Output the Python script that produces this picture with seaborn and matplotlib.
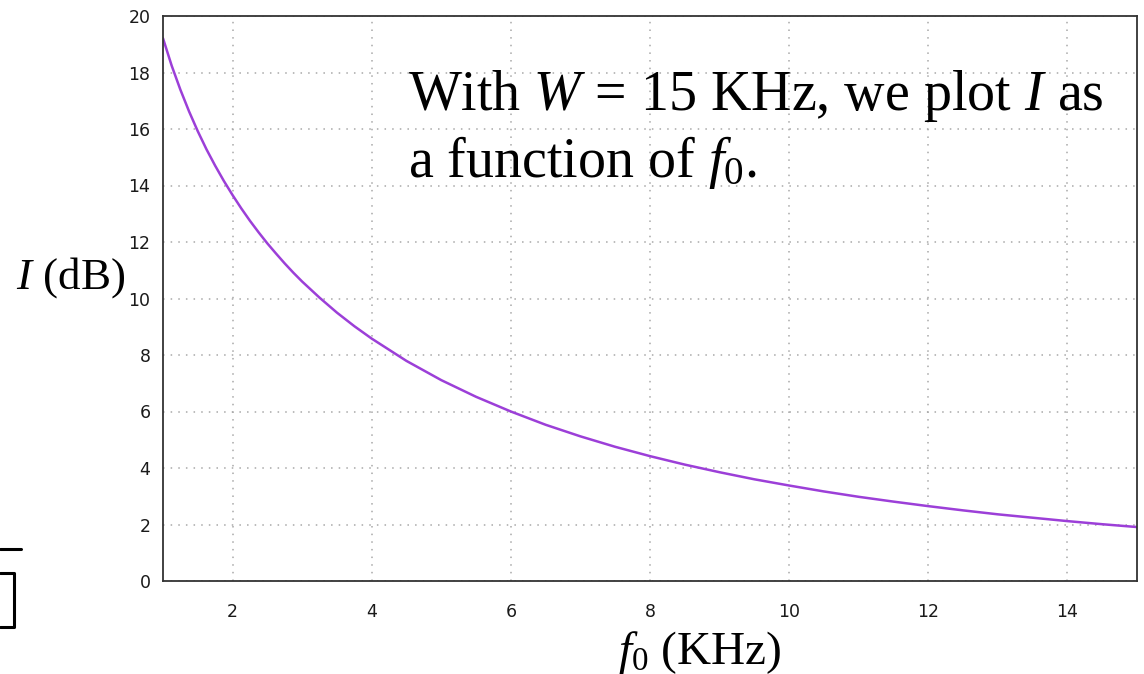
import matplotlib
matplotlib.use("Agg")
import matplotlib.pyplot as plt
import seaborn as sns
import pandas as pd
from matplotlib.lines import Line2D

# Values
f0_khz = [1.0, 1.125, 1.25, 1.375, 1.5, 1.625, 1.75, 1.875, 2.0, 2.125, 2.25, 2.375,
          2.5, 2.625, 2.75, 2.875, 3.0, 3.25, 3.5, 3.75, 4.0, 4.5, 5.0, 5.5,
          6.0, 6.5, 7.0, 7.5, 8.0, 8.5, 9.0, 9.5, 10.0, 10.5, 11.0, 11.5, 12.0,
          12.5, 13.0, 13.5, 14.0, 14.5, 15.0]
improvement_db = [19.21, 18.24, 17.39, 16.62, 15.92, 15.28, 14.70, 14.16, 13.66,
                  13.19, 12.75, 12.34, 11.95, 11.59, 11.24, 10.91, 10.60, 10.03,
                  9.50, 9.02, 8.58, 7.79, 7.11, 6.52, 6.00, 5.53, 5.12, 4.75, 4.42,
                  4.12, 3.85, 3.60, 3.38, 3.17, 2.98, 2.81, 2.65, 2.50, 2.36, 2.24,
                  2.12, 2.01, 1.91]
x_ticks = [2, 4, 6, 8, 10, 12, 14]
y_ticks = [0, 2, 4, 6, 8, 10, 12, 14, 16, 18, 20]

sns.set_theme(style="white")
plt.rcParams['font.family'] = ['DejaVu Sans']
plt.rcParams['mathtext.fontset'] = 'custom'
plt.rcParams['mathtext.rm'] = 'Liberation Serif'
plt.rcParams['mathtext.it'] = 'Liberation Serif:italic'

W, H = 1144, 674
fig = plt.figure(figsize=(W / 100, H / 100), dpi=100)
ax = fig.add_axes([163 / W, 1 - 581 / H, (1137 - 163) / W, (581 - 16) / H])

df = pd.DataFrame({"f0": f0_khz, "I": improvement_db})
sns.lineplot(data=df, x="f0", y="I", ax=ax, color="#9c3fd8", linewidth=1.8)

ax.set_xlim(1, 15)
ax.set_ylim(0, 20)
ax.set_xticks(x_ticks)
ax.set_yticks(y_ticks)
ax.set_xlabel("")
ax.set_ylabel("")
ax.grid(True, color="#a8a8a8", linestyle=(0, (1, 4)), linewidth=1.1)
for s in ax.spines.values():
    s.set_color("#333333")
    s.set_linewidth(1.3)
    s.set_visible(True)
ax.tick_params(axis="both", direction="in", length=9, width=1.3, color="#333333",
               labelsize=12.5, labelcolor="#1a1a1a", top=False, right=False)
ax.tick_params(axis="x", pad=16)
ax.tick_params(axis="y", pad=9)

serif = "Liberation Serif"
fig.text(408 / W, 1 - 110 / H, r"With $\mathit{W}$ = 15 KHz, we plot $\mathit{I}$ as",
         fontsize=40.3, family=serif, va="baseline", ha="left", color="black")
fig.text(408 / W, 1 - 177 / H, r"a function of $\mathit{f}_{0}$.",
         fontsize=40.3, family=serif, va="baseline", ha="left", color="black")
fig.text(16 / W, 1 - 289 / H, r"$\mathit{I}$ (dB)", fontsize=32.5, family=serif,
         va="baseline", ha="left", color="black")
fig.text(700 / W, 1 - 664 / H, r"$\mathit{f}_{0}$ (KHz)", fontsize=34, family=serif,
         va="baseline", ha="center", color="black")

# slide fragments at the lower-left edge
def px_line(xs, ys, lw=2.2):
    fig.add_artist(Line2D([x / W for x in xs], [1 - y / H for y in ys],
                          transform=fig.transFigure, color="black", linewidth=lw))

px_line([0, 21], [549, 549])
px_line([0, 14, 14, 0], [573, 573, 627, 627])

fig.savefig("out.png", dpi=100)
